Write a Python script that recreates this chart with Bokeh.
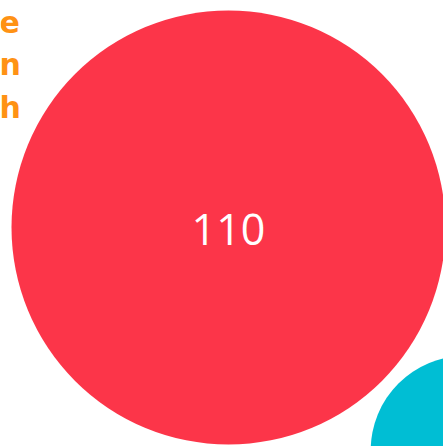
from bokeh.plotting import figure
from bokeh.models import Range1d, ColumnDataSource
from bokeh.core.properties import value
from bokeh.embed import file_html
from bokeh.resources import INLINE
import numpy as np

# Data
bubble_labels = ["110", ""]
bubble_values = [110, 21]
bubble_colors = ["#FC3549", "#00BED4"]
# packed-layout positions (pixel space of the view)
bubble_x = [228, 465]
bubble_y = [227, 450]

side_letters = ["e", "n", "h"]
side_y = [21, 64, 107]

W, H = 443, 446
scale = 217 / np.sqrt(110)
radii = [scale * np.sqrt(v) for v in bubble_values]

src = ColumnDataSource(dict(x=bubble_x, y=bubble_y, r=radii, c=bubble_colors,
                            label=bubble_labels))

p = figure(width=W, height=H, x_range=Range1d(0, W), y_range=Range1d(H, 0),
           output_backend="svg", toolbar_location=None, min_border=0,
           background_fill_color="white", border_fill_color="white")
p.axis.visible = False
p.grid.visible = False
p.outline_line_color = None

p.circle(x="x", y="y", radius="r", fill_color="c", line_color=None, source=src)
p.text(x="x", y="y", text="label", source=src, text_color="white",
       text_font=value("Open Sans"), text_font_size="43px",
       text_align="center", text_baseline="middle", y_offset=2)

p.text(x=[-1] * len(side_letters), y=side_y, text=side_letters,
       text_color="#FF9214", text_font=value("DejaVu Sans"), text_font_style="bold",
       text_font_size="30px", text_align="left", text_baseline="middle")

open("out.html", "w").write(file_html(p, INLINE))
